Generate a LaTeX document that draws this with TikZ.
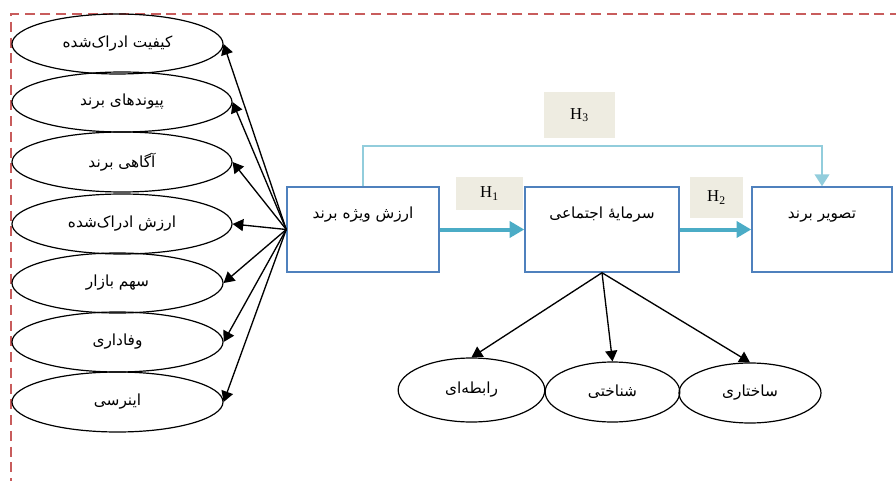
\documentclass[tikz,border=0pt]{standalone}
\usepackage{fontspec}
\setmainfont{Liberation Serif}
\newfontfamily\farsi[Script=Arabic]{DejaVu Sans}
\TeXXeTstate=1
\usetikzlibrary{arrows.meta,shapes.geometric}

\definecolor{boxblue}{RGB}{79,129,189}
\definecolor{flowblue}{RGB}{75,172,198}
\definecolor{linkblue}{RGB}{146,205,220}
\definecolor{tagfill}{RGB}{238,236,225}
\definecolor{framered}{RGB}{200,92,92}

\newcommand{\fa}[1]{{\farsi\beginR #1\endR}}

\tikzset{
	factor/.style={ellipse, draw, line width=0.9pt, inner sep=0pt,
		minimum width=#1, minimum height=45pt, font=\fontsize{11.5}{13}\selectfont},
	factor/.default=158.25pt,
	block/.style={rectangle, draw=boxblue, line width=1.1pt, minimum height=63.75pt,
		text height=9pt, text depth=25pt, font=\fontsize{11.5}{13}\selectfont},
	tag/.style={rectangle, fill=tagfill, inner sep=0pt, font=\fontsize{12.5}{14}\selectfont},
	link/.style={line width=1pt, -{Triangle[length=8pt, width=9pt]}},
	flow/.style={draw=flowblue, line width=3pt, -{Triangle[length=11pt, width=12pt]}},
	bridge/.style={draw=linkblue, line width=1.5pt, -{Triangle[length=9pt, width=11pt]}},
	frame line/.style={draw=framered, line width=1.5pt, dash pattern=on 7.5pt off 4.3pt}
}

\begin{document}
\begin{tikzpicture}[x=0.75pt, y=-0.75pt]

\path [use as bounding box] (0,0) rectangle (896,481);

% FRAME
\draw [frame line] (900,14) -- (11,14) -- (11,490);

% FACTORS
\node [factor] (quality) at (117.5,44) {\fa{کیفیت ادراک^^^^200cشده}};
\node [factor=165pt] (assoc) at (122,102) {\fa{پیوندهای برند}};
\node [factor=165pt] (aware) at (122,162) {\fa{آگاهی برند}};
\node [factor=165pt] (value) at (122,224) {\fa{ارزش ادراک^^^^200cشده}};
\node [factor] (share) at (117.5,283) {\fa{سهم بازار}};
\node [factor] (loyal) at (117.5,342) {\fa{وفاداری}};
\node [factor] (inertia) at (117.5,402) {\fa{اینرسی}};

% CONSTRUCTS
\node [block, minimum width=114pt] (equity) at (363,229.5) {\fa{ارزش ویژه برند}};
\node [block, minimum width=115.5pt] (social) at (602,229.5) {\fa{سرمایهٔ اجتماعی}};
\node [block, minimum width=105pt] (image) at (822,229.5) {\fa{تصویر برند}};

% DIMENSIONS
\node [factor=110pt, minimum height=48pt] (relational) at (471.5,390) {\fa{رابطه^^^^200cای}};
\node [factor=101pt] (cognitive) at (612.5,392) {\fa{شناختی}};
\node [factor=106.5pt] (structural) at (750,393) {\fa{ساختاری}};

% HYPOTHESES
\node [tag, minimum width=50.25pt, minimum height=24.75pt] (h1) at (489.5,193.5) {H\textsubscript{1}};
\node [tag, minimum width=39.75pt, minimum height=30.75pt] (h2) at (716.5,197.5) {H\textsubscript{2}};
\node [tag, minimum width=53.25pt, minimum height=34.5pt] (h3) at (579.5,115) {H\textsubscript{3}};

% LINKS
\foreach \f in {quality,assoc,aware,value,share,loyal,inertia}
	\draw [link] (equity.west) -- (\f.east);
\foreach \d in {relational,cognitive,structural}
	\draw [link] (social.south) -- (\d.north);

\draw [flow] (equity) -- (social);
\draw [flow] (social) -- (image);
\draw [bridge] (equity.north) -- ++(0,-40) -| (image.north);

\end{tikzpicture}
\end{document}
